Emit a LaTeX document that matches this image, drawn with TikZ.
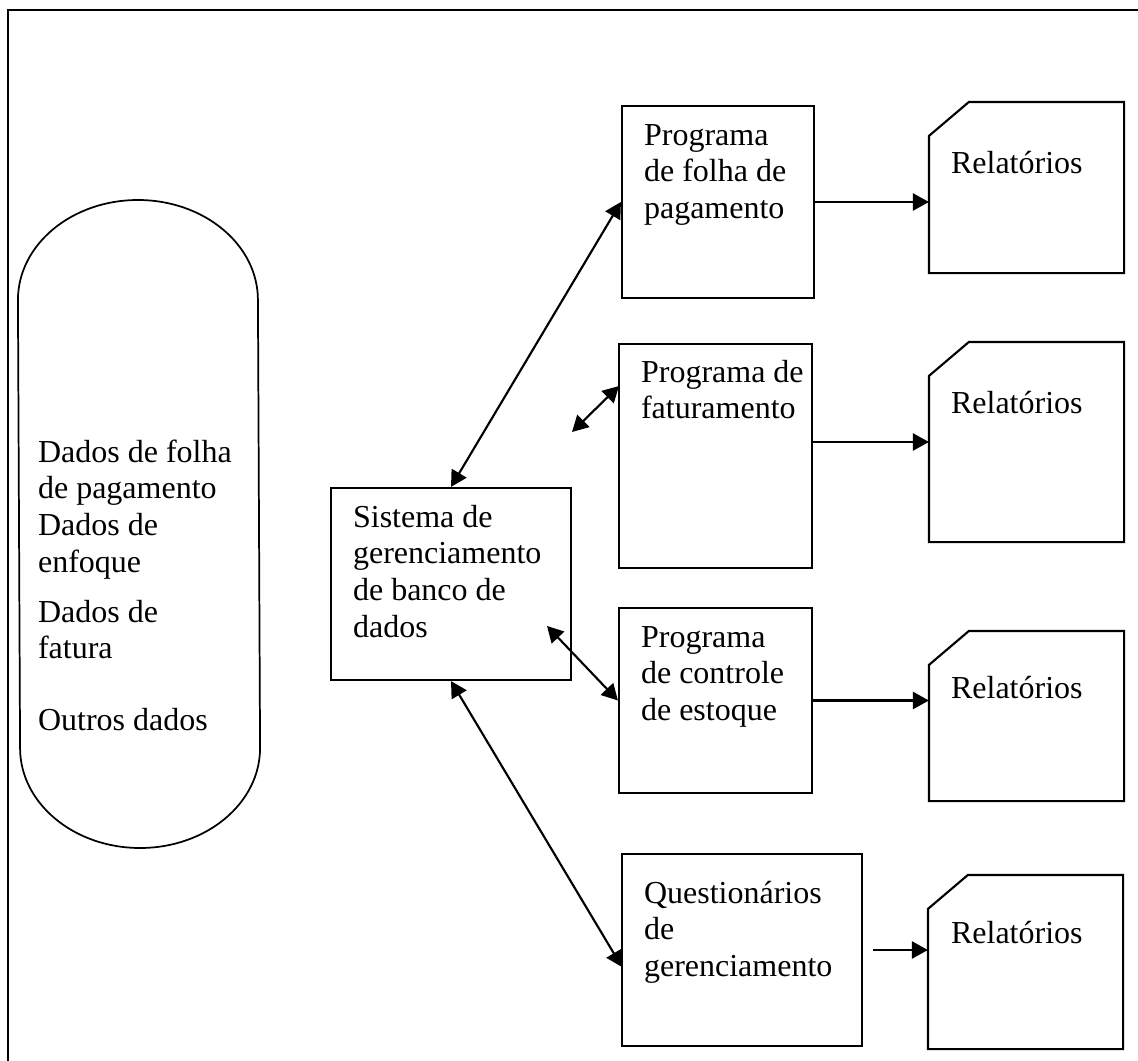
\documentclass[tikz,border=0pt]{standalone}
\usepackage{fontspec}
\setmainfont{Liberation Serif}
\usetikzlibrary{arrows.meta,positioning,fit}

\begin{document}
\begin{tikzpicture}[
    x=0.375pt, y=-0.375pt,
    >={Triangle[length=6pt,width=6.4pt]},
    line width=0.8pt,
    link/.style={->},
    both/.style={<->},
    box/.style={draw, inner sep=0pt},
    area/.style={inner sep=0pt},
    txt/.style={anchor=base west, align=left, inner sep=0pt,
      font=\fontsize{12pt}{13.8pt}\selectfont}
  ]
  \useasboundingbox (0,0) rectangle (1138,1061);
  \clip (0,0) rectangle (1138,1061);
  % outer frame
  \node[box, fit={(8,10) (1160,1080)}] (frame) {};

  % database (text placed by its last line)
  \node[area, fit={(19,200) (259,848)}] (db) {};
  \draw[line width=0.65pt] (db.west |- 0,300)
    arc[start angle=180, end angle=360, x radius=120, y radius=100]
    -- (db.east |- 0,748)
    arc[start angle=0, end angle=180, x radius=120, y radius=100] -- cycle;
  \node[txt] (dbt) at (37,730) {Dados de folha\\de pagamento\\Dados de\\enfoque\\[4.8pt]
    Dados de\\fatura\\[12.9pt]Outros dados};

  % DBMS
  \node[box, fit={(331,488) (571,680)}] (sg) {};
  \node[txt] (sgt) at (352,637.4) {Sistema de\\gerenciamento\\de banco de\\dados};

  % programs
  \node[box, fit={(622,106) (814,298)}] (p1) {};
  \node[txt] (p1t) at (643,218.6) {Programa\\de folha de\\pagamento};
  \node[box, fit={(619,344) (812,568)}] (p2) {};
  \node[txt] (p2t) at (640,418.8) {Programa de\\faturamento};
  \node[box, fit={(619,608) (812,793)}] (p3) {};
  \node[txt] (p3t) at (640,720.6) {Programa\\de controle\\de estoque};
  \node[box, fit={(622,854) (862,1046)}] (q) {};
  \node[txt] (qt) at (643,976.6) {Questionários\\de\\gerenciamento};

  % reports
  \node[area, fit={(930,103) (1123,272)}] (d1) {};
  \node[area, fit={(930,343) (1123,541)}] (d2) {};
  \node[area, fit={(930,632) (1123,800)}] (d3) {};
  \node[area, fit={(929,876) (1122,1048)}] (d4) {};
  \foreach \d in {d1,d2,d3,d4}
    \draw ([yshift=-12.75pt]\d.north west) -- ([xshift=15pt]\d.north west)
      -- (\d.north east) -- (\d.south east) -- (\d.south west) -- cycle;
  \node[txt] (d1t) at (950,173) {Relatórios};
  \node[txt] (d2t) at (950,413) {Relatórios};
  \node[txt] (d3t) at (950,698) {Relatórios};
  \node[txt] (d4t) at (950,943) {Relatórios};

  % connectors
  \coordinate (fa) at (572,432);
  \coordinate (fb) at (619,386);
  \coordinate (sgin) at (547,626);
  \coordinate (qin) at (622,967);
  \draw[both] (sg.north) -- (p1.west);
  \draw[both] (fa) -- (fb);
  \draw[both] (sgin) -- (p3.west);
  \draw[both] (sg.south) -- (qin);
  \draw[link] (p1.east) -- (d1.west |- p1.east);
  \draw[link] (p2.east |- d2.west) -- (d2.west);
  \draw[link] (p3.east) -- (d3.west |- p3.east);
  \draw[link] ([xshift=3.75pt]q.east) -- (d4.west |- q.east);
\end{tikzpicture}
\end{document}
